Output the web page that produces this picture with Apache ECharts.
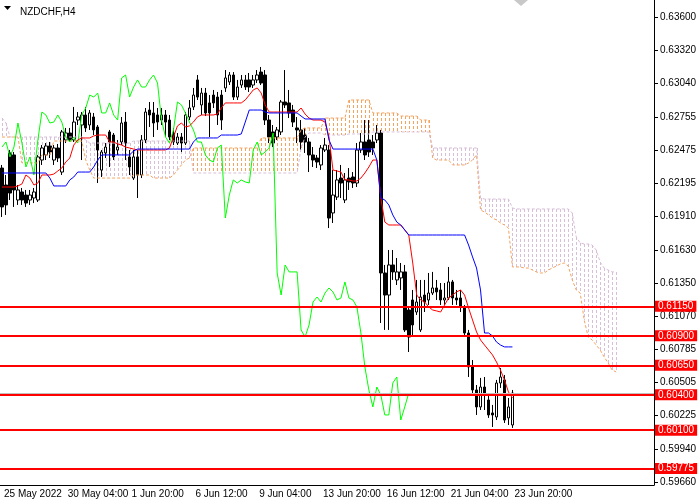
<!DOCTYPE html>
<html lang="en">
<head>
<meta charset="UTF-8">
<title>NZDCHF,H4</title>
<script src="https://cdn.jsdelivr.net/npm/echarts@6/dist/echarts.min.js"></script>
<style>
    html, body { margin: 0; padding: 0; background: #fff; }
    #chart { width: 700px; height: 500px; }
</style>
</head>
<body>
<div id="chart"></div>
<script>
// H4 bars: [open, close, low, high]
var candles = [
    [0.62323,0.61993,0.61908,0.62349],[0.62179,0.62010,0.61925,0.62264],[0.62451,0.62111,0.62052,0.62476],
    [0.62434,0.62137,0.61993,0.62459],[0.62052,0.62137,0.62010,0.62179],[0.62120,0.62052,0.62010,0.62154],
    [0.62094,0.62026,0.61993,0.62137],[0.62052,0.62094,0.62010,0.62137],[0.62069,0.62120,0.62026,0.62154],
    [0.62052,0.62417,0.62035,0.62434],[0.62391,0.62493,0.62349,0.62518],[0.62434,0.62510,0.62391,0.62535],
    [0.62510,0.62459,0.62408,0.62544],[0.62391,0.62493,0.62349,0.62518],[0.62493,0.62408,0.62374,0.62527],
    [0.62289,0.62629,0.62264,0.62646],[0.62561,0.62620,0.62535,0.62663],[0.62620,0.62561,0.62544,0.62663],
    [0.62561,0.62713,0.62544,0.62841],[0.62730,0.62756,0.62688,0.62798],[0.62688,0.62773,0.62391,0.62798],
    [0.62773,0.62663,0.62629,0.62841],[0.62688,0.62790,0.62646,0.62815],[0.62756,0.62646,0.62603,0.62790],
    [0.62671,0.62476,0.62196,0.62688],[0.62306,0.62459,0.62247,0.62476],[0.62451,0.62501,0.62408,0.62535],
    [0.62629,0.62544,0.62332,0.62646],[0.62603,0.62417,0.62391,0.62620],[0.62476,0.62501,0.62434,0.62561],
    [0.62544,0.62705,0.62518,0.62756],[0.62713,0.62535,0.62391,0.62798],[0.62417,0.62332,0.62264,0.62476],
    [0.62238,0.62417,0.62222,0.62476],[0.62417,0.62264,0.62069,0.62476],[0.62264,0.62561,0.62238,0.62603],
    [0.62561,0.62798,0.62535,0.62832],[0.62815,0.62773,0.62671,0.62883],[0.62790,0.62705,0.62586,0.62883],
    [0.62773,0.62713,0.62646,0.62832],[0.62730,0.62773,0.62688,0.62832],[0.62773,0.62713,0.62586,0.62815],
    [0.62730,0.62586,0.62561,0.62773],[0.62620,0.62544,0.62518,0.62663],[0.62535,0.62586,0.62518,0.62620],
    [0.62586,0.62535,0.62459,0.62620],[0.62535,0.62773,0.62518,0.62798],[0.62756,0.62832,0.62730,0.62900],
    [0.62841,0.62942,0.62815,0.63002],[0.63070,0.62925,0.62900,0.63112],[0.62858,0.62959,0.62773,0.63002],
    [0.62959,0.62790,0.62764,0.63002],[0.62875,0.62790,0.62586,0.62942],[0.62942,0.62875,0.62832,0.62985],
    [0.62925,0.62773,0.62688,0.62968],[0.62942,0.62730,0.62646,0.62985],[0.63002,0.63087,0.62968,0.63154],
    [0.63053,0.63112,0.63027,0.63137],[0.63112,0.62925,0.62900,0.63137],[0.62925,0.63010,0.62900,0.63070],
    [0.63027,0.63070,0.63002,0.63112],[0.63070,0.63010,0.62985,0.63112],[0.63070,0.63010,0.62968,0.63129],
    [0.63027,0.63070,0.63002,0.63112],[0.63070,0.63112,0.63044,0.63154],[0.63137,0.63044,0.63027,0.63180],
    [0.63112,0.62730,0.62688,0.63154],[0.62730,0.62586,0.62535,0.62773],[0.62629,0.62535,0.62501,0.62688],
    [0.62586,0.62646,0.62561,0.62671],[0.62629,0.62883,0.62603,0.62900],[0.62883,0.62858,0.62832,0.63154],
    [0.62875,0.62790,0.62747,0.62985],[0.62815,0.62713,0.62671,0.62858],[0.62663,0.62646,0.62535,0.62756],
    [0.62646,0.62544,0.62476,0.62730],[0.62603,0.62544,0.62451,0.62663],[0.62544,0.62434,0.62289,0.62578],
    [0.62434,0.62391,0.62332,0.62501],[0.62408,0.62374,0.62323,0.62434],[0.62349,0.62493,0.62306,0.62518],
    [0.62476,0.62518,0.62459,0.62578],[0.62476,0.61899,0.61814,0.62518],[0.61942,0.62094,0.61857,0.62306],
    [0.62077,0.62222,0.62052,0.62306],[0.62238,0.62196,0.62069,0.62349],[0.62052,0.62222,0.62026,0.62281],
    [0.62238,0.62205,0.62137,0.62323],[0.62247,0.62196,0.62154,0.62289],[0.62196,0.62476,0.62162,0.62535],
    [0.62476,0.62544,0.62451,0.62620],[0.62544,0.62434,0.62391,0.62730],[0.62561,0.62459,0.62417,0.62730],
    [0.62544,0.62493,0.62434,0.62603],[0.62561,0.62620,0.62535,0.62688],[0.62620,0.61433,0.61009,0.62646],
    [0.61433,0.61246,0.60950,0.61501],[0.61246,0.61501,0.60950,0.61628],[0.61501,0.61442,0.61374,0.61628],
    [0.61374,0.61442,0.61331,0.61560],[0.61391,0.61442,0.61289,0.61518],[0.61442,0.60950,0.60933,0.61501],
    [0.61119,0.60890,0.60763,0.61145],[0.61204,0.60992,0.60907,0.61289],[0.61102,0.61187,0.61077,0.61374],
    [0.60950,0.61229,0.60933,0.61374],[0.61246,0.61187,0.61102,0.61374],[0.61204,0.61263,0.61162,0.61433],
    [0.61263,0.61306,0.61246,0.61442],[0.61306,0.61272,0.61204,0.61374],[0.61289,0.61204,0.61162,0.61348],
    [0.61204,0.61221,0.61162,0.61348],[0.61221,0.61357,0.61204,0.61484],[0.61357,0.61221,0.61162,0.61374],
    [0.61221,0.61204,0.61162,0.61289],[0.61221,0.61145,0.61102,0.61289],[0.61145,0.60924,0.60890,0.61162],
    [0.60924,0.60636,0.60551,0.60950],[0.60636,0.60441,0.60398,0.60695],[0.60441,0.60297,0.60229,0.60483],
    [0.60297,0.60466,0.60271,0.60543],[0.60466,0.60398,0.60271,0.60551],[0.60356,0.60229,0.60204,0.60398],
    [0.60246,0.60229,0.60127,0.60314],[0.60212,0.60500,0.60186,0.60526],[0.60500,0.60551,0.60458,0.60627],
    [0.60526,0.60186,0.60161,0.60568],[0.60204,0.60297,0.60144,0.60373],[0.60144,0.60415,0.60119,0.60441]
];

// Tenkan-sen (red)
var tenkan = [
    0.62162,0.62162,0.62162,0.62162,0.62171,0.62188,0.62264,0.62238,0.62179,0.62196,
    0.62264,0.62264,0.62264,0.62272,0.62298,0.62323,0.62374,0.62408,0.62518,0.62561,
    0.62578,0.62578,0.62578,0.62595,0.62603,0.62603,0.62603,0.62544,0.62544,0.62527,
    0.62518,0.62501,0.62493,0.62484,0.62476,0.62476,0.62476,0.62476,0.62476,0.62476,
    0.62476,0.62476,0.62493,0.62586,0.62680,0.62705,0.62671,0.62680,0.62713,0.62756,
    0.62773,0.62773,0.62773,0.62773,0.62781,0.62832,0.62875,0.62875,0.62875,0.62875,
    0.62875,0.62900,0.62942,0.62985,0.63002,0.62959,0.62858,0.62798,0.62798,0.62798,
    0.62798,0.62798,0.62798,0.62798,0.62798,0.62832,0.62781,0.62747,0.62730,0.62730,
    0.62730,0.62713,0.62586,0.62306,0.62298,0.62289,0.62222,0.62222,0.62213,0.62213,
    0.62238,0.62281,0.62332,0.62391,0.62391,0.62069,0.61865,0.61840,0.61840,0.61840,
    0.61840,0.61798,0.61755,0.61518,0.61246,0.61204,0.61187,0.61145,0.61119,0.61111,
    0.61102,0.61162,0.61221,0.61246,0.61272,0.61289,0.61246,0.61136,0.61034,0.60933,
    0.60865,0.60822,0.60780,0.60738,0.60678,0.60610,0.60526,0.60424,0.60373
];

// Kijun-sen (blue)
var kijun = [
    0.62281,0.62281,0.62281,0.62281,0.62281,0.62281,0.62281,0.62281,0.62281,0.62281,
    0.62281,0.62281,0.62238,0.62171,0.62171,0.62171,0.62171,0.62222,0.62247,0.62289,
    0.62289,0.62289,0.62289,0.62332,0.62391,0.62434,0.62434,0.62434,0.62434,0.62434,
    0.62434,0.62434,0.62434,0.62468,0.62484,0.62484,0.62484,0.62484,0.62484,0.62484,
    0.62484,0.62484,0.62484,0.62484,0.62484,0.62484,0.62484,0.62484,0.62544,0.62578,
    0.62578,0.62578,0.62578,0.62578,0.62578,0.62603,0.62603,0.62603,0.62603,0.62603,
    0.62612,0.62713,0.62815,0.62815,0.62815,0.62815,0.62798,0.62790,0.62790,0.62790,
    0.62790,0.62790,0.62790,0.62790,0.62790,0.62764,0.62739,0.62739,0.62739,0.62739,
    0.62739,0.62739,0.62561,0.62484,0.62484,0.62484,0.62484,0.62484,0.62484,0.62484,
    0.62484,0.62484,0.62484,0.62484,0.62391,0.62069,0.62052,0.62010,0.61925,0.61865,
    0.61840,0.61798,0.61755,0.61755,0.61755,0.61755,0.61755,0.61755,0.61755,0.61755,
    0.61755,0.61755,0.61755,0.61755,0.61755,0.61755,0.61755,0.61670,0.61569,0.61475,
    0.61289,0.60924,0.60924,0.60899,0.60848,0.60822,0.60806,0.60806,0.60806
];

// Senkou Span A (sandy brown), already shifted 26 bars forward
var spanA = [
    0.62586,0.62586,0.62586,0.62586,0.62586,0.62366,0.62366,0.62366,0.62366,0.62366,
    0.62434,0.62434,0.62434,0.62552,0.62552,0.62552,0.62552,0.62552,0.62552,0.62552,
    0.62552,0.62391,0.62306,0.62238,0.62238,0.62238,0.62238,0.62238,0.62238,0.62238,
    0.62238,0.62238,0.62238,0.62264,0.62264,0.62264,0.62264,0.62264,0.62238,0.62238,
    0.62238,0.62238,0.62238,0.62264,0.62306,0.62349,0.62391,0.62408,0.62493,0.62493,
    0.62493,0.62493,0.62493,0.62493,0.62493,0.62493,0.62493,0.62493,0.62493,0.62493,
    0.62493,0.62493,0.62493,0.62493,0.62493,0.62578,0.62578,0.62578,0.62578,0.62578,
    0.62578,0.62578,0.62578,0.62578,0.62578,0.62646,0.62663,0.62663,0.62663,0.62663,
    0.62663,0.62747,0.62747,0.62747,0.62747,0.62747,0.62747,0.62900,0.62900,0.62900,
    0.62900,0.62900,0.62900,0.62790,0.62790,0.62790,0.62790,0.62790,0.62790,0.62790,
    0.62764,0.62764,0.62764,0.62764,0.62764,0.62730,0.62730,0.62730,0.62408,0.62391,
    0.62391,0.62391,0.62391,0.62349,0.62349,0.62349,0.62349,0.62366,0.62391,0.62434,
    0.61967,0.61950,0.61925,0.61899,0.61882,0.61857,0.61840,0.61814,0.61484,0.61484,
    0.61484,0.61475,0.61475,0.61458,0.61442,0.61433,0.61433,0.61458,0.61475,0.61492,
    0.61509,0.61518,0.61492,0.61374,0.61289,0.61263,0.61034,0.60890,0.60865,0.60822,
    0.60780,0.60721,0.60670,0.60610,0.60594
];

// Senkou Span B (thistle), already shifted 26 bars forward
var spanB = [
    0.62747,0.62705,0.62586,0.62586,0.62586,0.62586,0.62586,0.62586,0.62586,0.62586,
    0.62586,0.62586,0.62586,0.62586,0.62586,0.62586,0.62586,0.62586,0.62586,0.62586,
    0.62586,0.62561,0.62535,0.62535,0.62535,0.62535,0.62535,0.62535,0.62535,0.62535,
    0.62535,0.62535,0.62535,0.62552,0.62552,0.62552,0.62552,0.62552,0.62552,0.62552,
    0.62552,0.62552,0.62552,0.62552,0.62552,0.62552,0.62552,0.62552,0.62281,0.62281,
    0.62281,0.62281,0.62281,0.62281,0.62281,0.62281,0.62281,0.62281,0.62281,0.62281,
    0.62281,0.62281,0.62281,0.62281,0.62281,0.62281,0.62281,0.62281,0.62281,0.62281,
    0.62281,0.62281,0.62281,0.62281,0.62281,0.62493,0.62586,0.62620,0.62620,0.62620,
    0.62620,0.62603,0.62603,0.62603,0.62603,0.62603,0.62603,0.62612,0.62612,0.62612,
    0.62612,0.62612,0.62612,0.62629,0.62629,0.62629,0.62629,0.62629,0.62629,0.62629,
    0.62629,0.62629,0.62629,0.62629,0.62629,0.62629,0.62629,0.62629,0.62493,0.62493,
    0.62493,0.62493,0.62493,0.62493,0.62493,0.62493,0.62493,0.62493,0.62493,0.62493,
    0.62069,0.62060,0.62060,0.62060,0.62060,0.62060,0.62060,0.62060,0.61984,0.61976,
    0.61976,0.61976,0.61976,0.61976,0.61976,0.61976,0.61976,0.61976,0.61976,0.61976,
    0.61976,0.61976,0.61976,0.61942,0.61738,0.61687,0.61679,0.61679,0.61670,0.61628,
    0.61526,0.61475,0.61458,0.61442,0.61442
];

var priceTicks = [0.63600, 0.63320, 0.63040, 0.62755, 0.62475, 0.62195, 0.61910, 0.61630,
                  0.61350, 0.61070, 0.60785, 0.60505, 0.60225, 0.59940, 0.59660];
var levels = [0.61150, 0.60900, 0.60650, 0.60400, 0.60100, 0.59775];
var timeLabels = ['25 May 2022', '30 May 04:00', '1 Jun 20:00', '6 Jun 12:00', '9 Jun 04:00',
                  '13 Jun 20:00', '16 Jun 12:00', '21 Jun 04:00', '23 Jun 20:00'];

var BAR_COUNT = 164;
var LABEL_EVERY = 16;
var CHIKOU_SHIFT = 26;
var FONT = '"Liberation Sans", "DejaVu Sans", sans-serif';

var categories = [];
for (var i = 0; i < BAR_COUNT; i++) categories.push(i);

// Chikou span: the close drawn 26 bars back
var chikou = [];
for (var i = 0; i < candles.length - CHIKOU_SHIFT; i++) chikou.push(candles[i + CHIKOU_SHIFT][1]);

var cloud = [];
for (var i = 0; i < spanA.length; i++) cloud.push([i, spanA[i], spanB[i]]);

var lastClose = candles[candles.length - 1][1];

var chart = echarts.init(document.getElementById('chart'));

var option = {
    animation: false,
    backgroundColor: '#fff',
    textStyle: { fontFamily: FONT },
    title: {
        text: 'NZDCHF,H4',
        left: 15, top: 2,
        textStyle: { fontSize: 10, fontWeight: 'normal', color: '#000', fontFamily: FONT }
    },
    graphic: [
        { type: 'polygon', shape: { points: [[4, 6], [11, 6], [7.5, 10]] }, style: { fill: '#000' } },
        { type: 'polygon', shape: { points: [[514, 0], [528, 0], [521, 6]] }, style: { fill: '#c8c8c8' } }
    ],
    grid: { left: 0, right: 46, top: 0, bottom: 15 },
    xAxis: {
        type: 'category',
        data: categories,
        boundaryGap: true,
        axisLine: { lineStyle: { color: '#000', width: 1 } },
        axisTick: { alignWithLabel: true, interval: LABEL_EVERY - 1, length: 4, lineStyle: { color: '#000' } },
        axisLabel: {
            interval: LABEL_EVERY - 1,
            align: 'left',
            margin: 4,
            padding: [0, 0, 0, 2],
            color: '#000',
            fontSize: 10,
            fontFamily: FONT,
            formatter: function (val, idx) {
                return timeLabels[idx / LABEL_EVERY] || '';
            }
        },
        splitLine: { show: false }
    },
    yAxis: {
        type: 'value',
        position: 'right',
        min: 0.59635,
        max: 0.63748,
        scale: true,
        axisLine: { show: true, lineStyle: { color: '#000', width: 1 } },
        axisTick: { show: true, length: 4, customValues: priceTicks, lineStyle: { color: '#000' } },
        axisLabel: {
            customValues: priceTicks,
            margin: 6,
            color: '#000',
            fontSize: 10,
            fontFamily: FONT,
            formatter: function (v) { return v.toFixed(5); }
        },
        splitLine: { show: false }
    },
    series: [
        {
            name: 'Kumo',
            type: 'custom',
            data: cloud,
            encode: { x: 0, y: [1, 2] },
            silent: true,
            renderItem: function (params, api) {
                var a = api.value(1);
                var b = api.value(2);
                var p1 = api.coord([api.value(0), a]);
                var p2 = api.coord([api.value(0), b]);
                var x = Math.round(p1[0]) + 0.5;
                var top = Math.round(Math.min(p1[1], p2[1]));
                var bottom = Math.round(Math.max(p1[1], p2[1]));
                return {
                    type: 'line',
                    shape: { x1: x, y1: top, x2: x, y2: bottom },
                    style: { stroke: a >= b ? '#f4a460' : '#d8bfd8', lineWidth: 1, lineDash: [3, 2] }
                };
            }
        },
        {
            name: 'Senkou Span A',
            type: 'line',
            data: spanA,
            symbol: 'none',
            silent: true,
            lineStyle: { color: '#f4a460', width: 1, type: [3, 2] }
        },
        {
            name: 'Senkou Span B',
            type: 'line',
            data: spanB,
            symbol: 'none',
            silent: true,
            lineStyle: { color: '#d8bfd8', width: 1, type: [3, 2] }
        },
        {
            name: 'NZDCHF',
            type: 'candlestick',
            data: candles,
            barWidth: 3,
            itemStyle: {
                color: '#ffffff',
                color0: '#000000',
                borderColor: '#000000',
                borderColor0: '#000000',
                borderWidth: 1
            }
        },
        {
            name: 'Chikou Span',
            type: 'line',
            data: chikou,
            symbol: 'none',
            silent: true,
            lineStyle: { color: '#00ff00', width: 1 }
        },
        {
            name: 'Tenkan-sen',
            type: 'line',
            data: tenkan,
            symbol: 'none',
            silent: true,
            lineStyle: { color: '#ff0000', width: 1 }
        },
        {
            name: 'Kijun-sen',
            type: 'line',
            data: kijun,
            symbol: 'none',
            silent: true,
            lineStyle: { color: '#0000ff', width: 1 }
        },
        {
            name: 'Bid',
            type: 'line',
            data: [],
            markLine: {
                silent: true,
                symbol: 'none',
                precision: 5,
                label: { show: false },
                lineStyle: { color: '#c0c0c0', width: 1, type: 'solid' },
                data: [{ yAxis: lastClose }]
            }
        },
        {
            name: 'Levels',
            type: 'line',
            data: [],
            z: 10,
            markLine: {
                silent: true,
                symbol: 'none',
                precision: 5,
                lineStyle: { color: '#ff0000', width: 2, type: 'solid' },
                label: {
                    show: true,
                    position: 'end',
                    distance: 1,
                    backgroundColor: '#ff0000',
                    color: '#ffffff',
                    padding: [1, 3, 0, 3],
                    fontSize: 10,
                    fontFamily: FONT,
                    formatter: function (p) { return p.value.toFixed(5); }
                },
                data: levels.map(function (v) { return { yAxis: v }; })
            }
        }
    ]
};

chart.setOption(option);
</script>
</body>
</html>
